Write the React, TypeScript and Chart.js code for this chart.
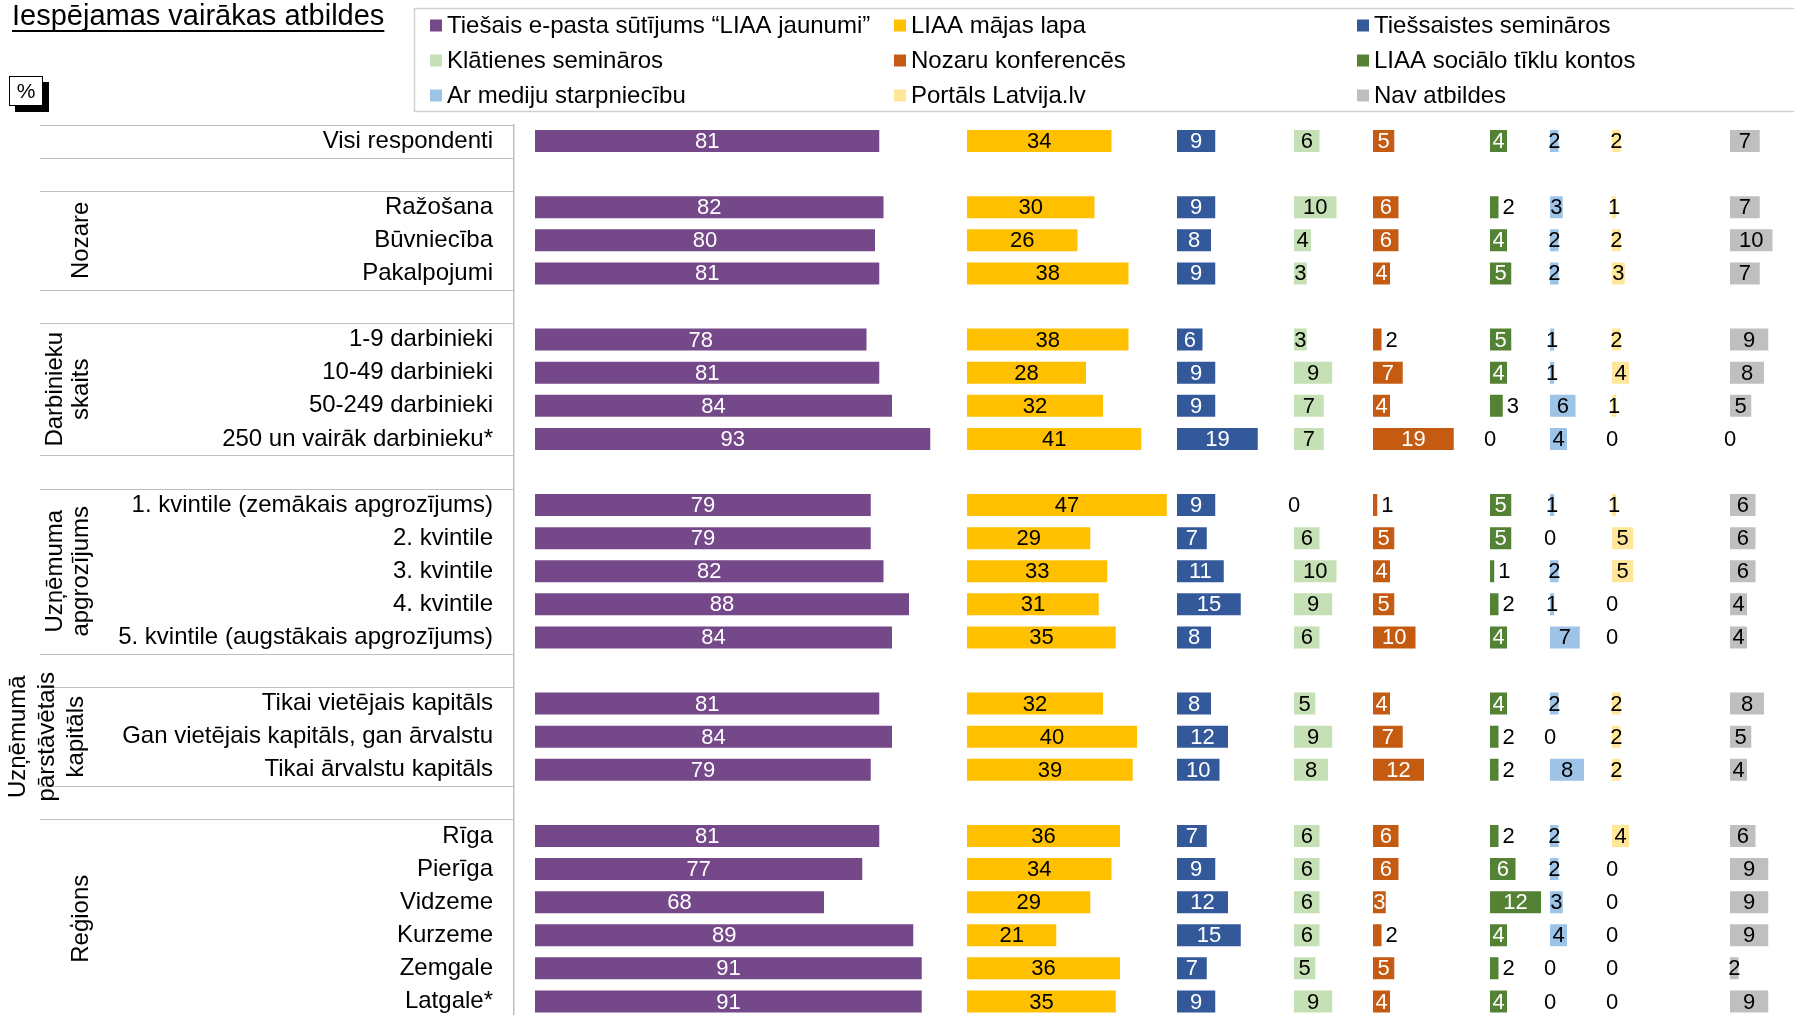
import React, { useEffect, useRef } from 'react';
import { Chart, registerables } from 'chart.js';

Chart.register(...registerables);

const FONT = "'Liberation Sans', Arial, Helvetica, sans-serif";

// ---------- DATA ----------
const titleText = 'Iespējamas vairākas atbildes';
const unitText = '%';

const categories = [
  'Visi respondenti',
  '',
  'Ražošana',
  'Būvniecība',
  'Pakalpojumi',
  '',
  '1-9 darbinieki',
  '10-49 darbinieki',
  '50-249 darbinieki',
  '250 un vairāk darbinieku*',
  '',
  '1. kvintile (zemākais apgrozījums)',
  '2. kvintile',
  '3. kvintile',
  '4. kvintile',
  '5. kvintile (augstākais apgrozījums)',
  '',
  'Tikai vietējais kapitāls',
  'Gan vietējais kapitāls, gan ārvalstu',
  'Tikai ārvalstu kapitāls',
  '',
  'Rīga',
  'Pierīga',
  'Vidzeme',
  'Kurzeme',
  'Zemgale',
  'Latgale*',
];

const groupTitles = [
  ['Nozare'],
  ['Darbinieku', 'skaits'],
  ['Uzņēmuma', 'apgrozījums'],
  ['Uzņēmumā', 'pārstāvētais', 'kapitāls'],
  ['Reģions'],
];

const seriesLabels = [
  'Tiešais e-pasta sūtījums “LIAA jaunumi”',
  'LIAA mājas lapa',
  'Tiešsaistes semināros',
  'Klātienes semināros',
  'Nozaru konferencēs',
  'LIAA sociālo tīklu kontos',
  'Ar mediju starpniecību',
  'Portāls Latvija.lv',
  'Nav atbildes',
];

const _ = null;
const emailNews = [81, _, 82, 80, 81, _, 78, 81, 84, 93, _, 79, 79, 82, 88, 84, _, 81, 84, 79, _, 81, 77, 68, 89, 91, 91];
const homePage = [34, _, 30, 26, 38, _, 38, 28, 32, 41, _, 47, 29, 33, 31, 35, _, 32, 40, 39, _, 36, 34, 29, 21, 36, 35];
const onlineSeminars = [9, _, 9, 8, 9, _, 6, 9, 9, 19, _, 9, 7, 11, 15, 8, _, 8, 12, 10, _, 7, 9, 12, 15, 7, 9];
const inPersonSeminars = [6, _, 10, 4, 3, _, 3, 9, 7, 7, _, 0, 6, 10, 9, 6, _, 5, 9, 8, _, 6, 6, 6, 6, 5, 9];
const conferences = [5, _, 6, 6, 4, _, 2, 7, 4, 19, _, 1, 5, 4, 5, 10, _, 4, 7, 12, _, 6, 6, 3, 2, 5, 4];
const socialMedia = [4, _, 2, 4, 5, _, 5, 4, 3, 0, _, 5, 5, 1, 2, 4, _, 4, 2, 2, _, 2, 6, 12, 4, 2, 4];
const massMedia = [2, _, 3, 2, 2, _, 1, 1, 6, 4, _, 1, 0, 2, 1, 7, _, 2, 0, 8, _, 2, 2, 3, 4, 0, 0];
const portalLv = [2, _, 1, 2, 3, _, 2, 4, 1, 0, _, 1, 5, 5, 0, 0, _, 2, 2, 2, _, 4, 0, 0, 0, 0, 0];
const noAnswer = [7, _, 7, 10, 7, _, 9, 8, 5, 0, _, 6, 6, 6, 4, 4, _, 8, 5, 4, _, 6, 9, 9, 9, 2, 9];

const seriesValues = [
  emailNews, homePage, onlineSeminars, inPersonSeminars, conferences,
  socialMedia, massMedia, portalLv, noAnswer,
];

// ---------- STYLE / LAYOUT ----------
const colors = ['#754889', '#FFC000', '#34599A', '#C5E0B4', '#C55A11', '#548235', '#9DC3E6', '#FFE699', '#BFBFBF'];
const whiteLabel = [true, false, true, false, true, true, false, false, false];
const insideMin = [1, 1, 1, 1, 3, 4, 1, 1, 1];

const W = 1794;
const H = 1018;
const PLOT_LEFT = 514;
const PX_PER_UNIT = 4.25;
const colStarts = [535, 967, 1177, 1294, 1373, 1490, 1550, 1612, 1730];
const PLOT_RIGHT = 1794;
const GRID_COLOR = '#BFBFBF';

function buildXScales() {
  const scales: Record<string, any> = {};
  colStarts.forEach((start, i) => {
    const segLeft = i === 0 ? PLOT_LEFT : start;
    const segRight = i < colStarts.length - 1 ? colStarts[i + 1] : PLOT_RIGHT;
    scales['x' + i] = {
      type: 'linear',
      axis: 'x',
      position: 'bottom',
      stack: 'columns',
      stackWeight: segRight - segLeft,
      min: -(start - segLeft) / PX_PER_UNIT,
      max: (segRight - start) / PX_PER_UNIT,
      display: false,
    };
  });
  return scales;
}

const decorPlugin = {
  id: 'decor',
  afterDraw(chart: any) {
    const ctx = chart.ctx as CanvasRenderingContext2D;
    const yScale = chart.scales.y;
    const area = chart.chartArea;
    ctx.save();

    // Title (underlined)
    ctx.fillStyle = '#000';
    ctx.font = `29px ${FONT}`;
    ctx.textAlign = 'left';
    ctx.textBaseline = 'alphabetic';
    ctx.fillText(titleText, 12, 25);
    const tw = ctx.measureText(titleText).width;
    ctx.fillRect(12, 30, tw, 2);

    // % box with shadow
    ctx.fillStyle = '#000';
    ctx.fillRect(15, 82, 34, 30);
    ctx.fillStyle = '#fff';
    ctx.fillRect(9, 76, 34, 30);
    ctx.strokeStyle = '#000';
    ctx.lineWidth = 1;
    ctx.strokeRect(9.5, 76.5, 33, 29);
    ctx.fillStyle = '#000';
    ctx.font = `21px ${FONT}`;
    ctx.textAlign = 'center';
    ctx.textBaseline = 'middle';
    ctx.fillText(unitText, 26, 92);

    // Legend box
    ctx.strokeStyle = '#D0D0D0';
    ctx.lineWidth = 1.5;
    ctx.beginPath();
    ctx.moveTo(W + 5, 8.5);
    ctx.lineTo(414.5, 8.5);
    ctx.lineTo(414.5, 111.5);
    ctx.lineTo(W + 5, 111.5);
    ctx.stroke();

    const legCols = [430, 894, 1357];
    const legRows = [25.5, 60.5, 95.5];
    ctx.font = `24px ${FONT}`;
    ctx.textAlign = 'left';
    ctx.textBaseline = 'middle';
    chart.data.datasets.forEach((ds: any, i: number) => {
      const cx = legCols[i % 3];
      const cy = legRows[Math.floor(i / 3)];
      ctx.fillStyle = ds.backgroundColor;
      ctx.fillRect(cx, cy - 6, 12, 12);
      ctx.fillStyle = '#000';
      ctx.fillText(ds.label, cx + 17, cy + 1);
    });

    // Separator lines in label area
    const labels: string[] = chart.data.labels;
    const band = yScale.getPixelForValue(1) - yScale.getPixelForValue(0);
    const boundaries = new Set<number>();
    boundaries.add(0);
    labels.forEach((l, i) => {
      if (l === '') {
        boundaries.add(i);
        boundaries.add(i + 1);
      }
    });
    ctx.strokeStyle = GRID_COLOR;
    ctx.lineWidth = 1.2;
    boundaries.forEach((b) => {
      const yy = Math.round(yScale.getPixelForValue(b) - band / 2) + 0.5;
      ctx.beginPath();
      ctx.moveTo(40, yy);
      ctx.lineTo(area.left, yy);
      ctx.stroke();
    });

    // Group labels (rotated)
    const segments: [number, number][] = [];
    let start = -1;
    labels.forEach((l, i) => {
      if (l !== '' && start < 0) start = i;
      if ((l === '' || i === labels.length - 1) && start >= 0) {
        segments.push([start, l === '' ? i - 1 : i]);
        start = -1;
      }
    });
    ctx.fillStyle = '#000';
    ctx.font = `24px ${FONT}`;
    ctx.textAlign = 'center';
    ctx.textBaseline = 'middle';
    segments.slice(1).forEach((seg, gi) => {
      const lines = groupTitles[gi];
      if (!lines) return;
      const yc = (yScale.getPixelForValue(seg[0]) + yScale.getPixelForValue(seg[1])) / 2;
      const n = lines.length;
      const lastX = n === 3 ? 76 : 81;
      const gap = n === 3 ? 29 : 26;
      lines.forEach((line, j) => {
        const x = lastX - (n - 1 - j) * gap;
        ctx.save();
        ctx.translate(x, yc);
        ctx.rotate(-Math.PI / 2);
        ctx.fillText(line, 0, 0);
        ctx.restore();
      });
    });

    ctx.restore();
  },
};

const valueLabelPlugin = {
  id: 'valueLabels',
  afterDatasetsDraw(chart: any) {
    const ctx = chart.ctx as CanvasRenderingContext2D;
    ctx.save();
    ctx.font = `22px ${FONT}`;
    ctx.textBaseline = 'middle';
    chart.data.datasets.forEach((ds: any, di: number) => {
      const meta = chart.getDatasetMeta(di);
      meta.data.forEach((el: any, i: number) => {
        const v = ds.data[i];
        if (v === null || v === undefined) return;
        const { x, y, base } = el.getProps(['x', 'y', 'base'], true);
        const text = String(v);
        const ty = y + 1;
        if (v === 0) {
          ctx.textAlign = 'center';
          ctx.fillStyle = '#000';
          ctx.fillText(text, base, ty);
        } else if (whiteLabel[di] && v < insideMin[di]) {
          ctx.textAlign = 'left';
          ctx.fillStyle = '#000';
          ctx.fillText(text, x + 4, ty);
        } else {
          ctx.textAlign = 'center';
          ctx.fillStyle = whiteLabel[di] ? '#fff' : '#000';
          ctx.fillText(text, (x + base) / 2, ty);
        }
      });
    });
    ctx.restore();
  },
};

export default function App() {
  const canvasRef = useRef<HTMLCanvasElement | null>(null);

  useEffect(() => {
    if (!canvasRef.current) return;
    const chart = new Chart(canvasRef.current, {
      type: 'bar',
      data: {
        labels: categories,
        datasets: seriesValues.map((vals, i) => ({
          label: seriesLabels[i],
          data: vals,
          backgroundColor: colors[i],
          xAxisID: 'x' + i,
          yAxisID: 'y',
          grouped: false,
          categoryPercentage: 1,
          barPercentage: 0.665,
          borderWidth: 0,
        })),
      } as any,
      options: {
        indexAxis: 'y',
        animation: false,
        responsive: false,
        devicePixelRatio: 1,
        events: [],
        layout: { padding: { top: 124.5, left: 0, right: 0, bottom: 0 } },
        plugins: {
          legend: { display: false },
          tooltip: { enabled: false },
          title: { display: false },
        },
        scales: {
          ...buildXScales(),
          y: {
            type: 'category',
            position: 'left',
            offset: true,
            grid: { display: false, drawTicks: false },
            border: { display: true, color: GRID_COLOR, width: 1.5 },
            ticks: {
              autoSkip: false,
              padding: 21,
              color: '#000',
              font: { family: FONT, size: 24 },
              crossAlign: 'near',
            },
            afterFit: (scale: any) => {
              scale.width = PLOT_LEFT;
              scale.paddingTop = 0;
              scale.paddingBottom = 0;
            },
          },
        },
      } as any,
      plugins: [valueLabelPlugin, decorPlugin],
    });
    return () => chart.destroy();
  }, []);

  return (
    <div style={{ position: 'fixed', left: 0, top: 0, width: W, height: 1015, overflow: 'hidden', background: '#fff' }}>
      <canvas ref={canvasRef} width={W} height={H} style={{ width: W, height: H, display: 'block' }} />
    </div>
  );
}
